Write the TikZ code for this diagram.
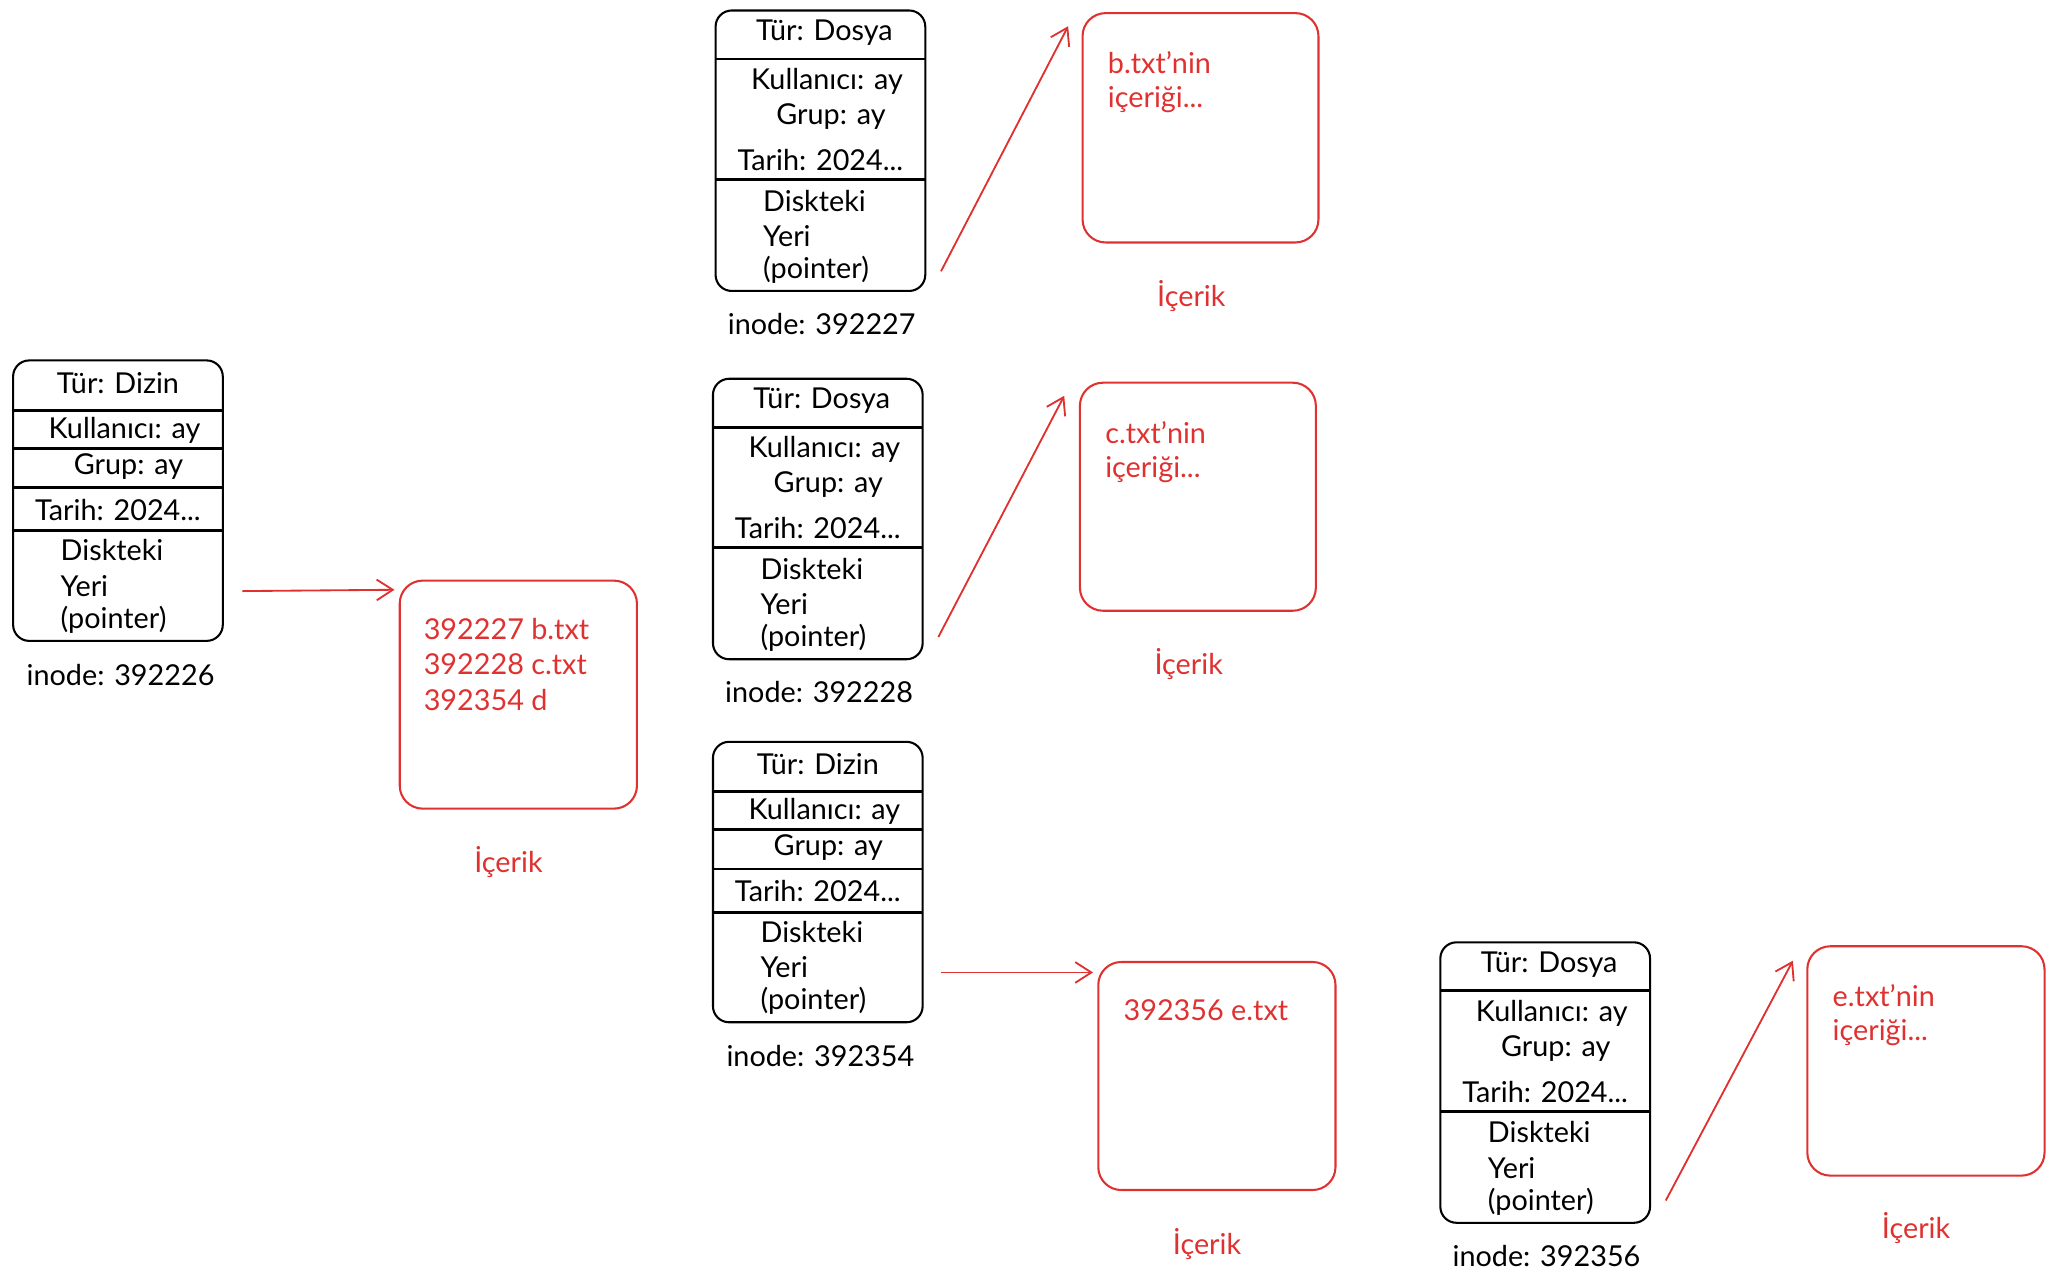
\documentclass[tikz,border=0pt]{standalone}
\usepackage{fontspec}
\setmainfont{Lato}
\usetikzlibrary{arrows.meta}
\definecolor{rd}{HTML}{E03131}
\begin{document}
\begin{tikzpicture}[x=0.02cm,y=-0.02cm,
  ibox/.style={draw=black,line width=0.9pt,rounded corners=7pt},
  sep/.style={draw=black,line width=1.2pt},
  cbox/.style={draw=rd,line width=0.9pt,rounded corners=10pt},
  t/.style={font=\fontsize{12.5}{14}\selectfont,inner sep=0pt},
  rt/.style={t,text=rd,anchor=west},
  arr/.style={draw=rd,line width=0.8pt,-{Straight Barb[length=7pt,width=9pt]}}]
\useasboundingbox (0,0) rectangle (1568,981);
% generic inode with five-field layout: Dosya
\newcommand{\dosya}[4]{% name, x, y, label
  \draw[ibox] (#2,#3) rectangle ++(160,214);
  \draw[sep] (#2,#3+37) -- ++(160,0);
  \draw[sep] (#2,#3+129) -- ++(160,0);
  \node[t] at (#2+83,#3+17) {Tür: Dosya};
  \node[t] at (#2+85,#3+54) {Kullanıcı: ay};
  \node[t] at (#2+88,#3+81) {Grup: ay};
  \node[t] at (#2+80,#3+114) {Tarih: 2024...};
  \node[t,anchor=west] at (#2+36,#3+145) {Diskteki};
  \node[t,anchor=west] at (#2+36,#3+172) {Yeri};
  \node[t,anchor=west] at (#2+36,#3+198) {(pointer)};
  \node[t] (#1) at (#2+81,#3+239) {#4};
}
\newcommand{\dizin}[4]{%
  \draw[ibox] (#2,#3) rectangle ++(160,214);
  \draw[sep] (#2,#3+38) -- ++(160,0);
  \draw[sep] (#2,#3+67) -- ++(160,0);
  \draw[sep] (#2,#3+97) -- ++(160,0);
  \draw[sep] (#2,#3+130) -- ++(160,0);
  \node[t] at (#2+80,#3+17) {Tür: Dizin};
  \node[t] at (#2+85,#3+53) {Kullanıcı: ay};
  \node[t] at (#2+88,#3+81) {Grup: ay};
  \node[t] at (#2+80,#3+114) {Tarih: 2024...};
  \node[t,anchor=west] at (#2+36,#3+145) {Diskteki};
  \node[t,anchor=west] at (#2+36,#3+172) {Yeri};
  \node[t,anchor=west] at (#2+36,#3+198) {(pointer)};
  \node[t] (#1) at (#2+82,#3+240) {#4};
}
\dizin{i226}{10}{275}{inode: 392226}
\dosya{i227}{546}{8}{inode: 392227}
\dosya{i228}{544}{289}{inode: 392228}
\dizin{i354}{544}{566}{inode: 392354}
\dosya{i356}{1099}{719}{inode: 392356}
% content boxes
\draw[cbox] (305,443) rectangle (486,617);
\node[rt] at (323,480) {392227 b.txt};
\node[rt] at (323,507) {392228 c.txt};
\node[rt] at (323,534) {392354 d};
\node[t,text=rd] at (388,658) {İçerik};
\draw[cbox] (826,10) rectangle (1006,185);
\node[rt] at (845,48) {b.txt'nin};
\node[rt] at (845,76) {içeriği...};
\node[t,text=rd] at (909,226) {İçerik};
\draw[cbox] (824,292) rectangle (1004,466);
\node[rt] at (843,330) {c.txt'nin};
\node[rt] at (843,358) {içeriği...};
\node[t,text=rd] at (907,507) {İçerik};
\draw[cbox] (838,734) rectangle (1019,908);
\node[rt] at (857,771) {392356 e.txt};
\node[t,text=rd] at (921,949) {İçerik};
\draw[cbox] (1379,722) rectangle (1560,897);
\node[rt] at (1398,760) {e.txt'nin};
\node[rt] at (1398,788) {içeriği...};
\node[t,text=rd] at (1462,937) {İçerik};
% arrows
\coordinate (a1s) at (185,451); \coordinate (a1e) at (301,450);
\coordinate (a2s) at (718,207); \coordinate (a2e) at (815,20);
\coordinate (a3s) at (716,486); \coordinate (a3e) at (812,302);
\coordinate (a4s) at (718,742); \coordinate (a4e) at (834,742);
\coordinate (a5s) at (1271,916); \coordinate (a5e) at (1368,733);
\draw[arr] (a1s) -- (a1e);
\draw[arr] (a2s) -- (a2e);
\draw[arr] (a3s) -- (a3e);
\draw[arr] (a4s) -- (a4e);
\draw[arr] (a5s) -- (a5e);
\end{tikzpicture}
\end{document}
